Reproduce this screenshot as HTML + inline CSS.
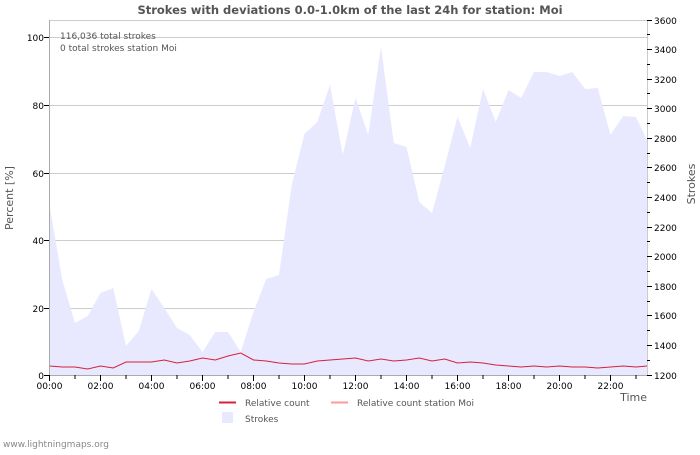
<!DOCTYPE html>
<html><head><meta charset="utf-8"><style>
body{margin:0;background:#fff;}
svg text{font-family:"DejaVu Sans","Liberation Sans",sans-serif;}
</style></head><body>
<svg width="700" height="450" xmlns="http://www.w3.org/2000/svg">
<rect width="700" height="450" fill="#fff"/>
<text x="350" y="14" text-anchor="middle" font-size="11.5" font-weight="bold" fill="#555">Strokes with deviations 0.0-1.0km of the last 24h for station: Moi</text>
<rect x="49.5" y="20.5" width="598" height="355" fill="#fff" stroke="#ccc"/>
<g stroke="#ccc" stroke-width="1">
<line x1="50" x2="647" y1="37.5" y2="37.5"/><line x1="50" x2="647" y1="105.5" y2="105.5"/><line x1="50" x2="647" y1="173.5" y2="173.5"/><line x1="50" x2="647" y1="240.5" y2="240.5"/><line x1="50" x2="647" y1="308.5" y2="308.5"/>
</g>
<polygon fill="#e8e8ff" points="49.5,375 49.5,205 62.25,280 75,323 87.75,316 100.5,293 113.25,288 126,346 138.75,331 151.5,289 164.25,308 177,328 189.75,335 202.5,352 215.25,332 228,332 240.75,352 253.5,312 266.25,279 279,275 291.75,185 304.5,134 317.25,122 330,85 342.75,155 355.5,98 368.25,135 381,47 393.75,143 406.5,147 419.25,202 432,213 444.75,166 457.5,117 470.25,148 483,89 495.75,122 508.5,90 521.25,98 534,72 546.75,72 559.5,76 572.25,72 585,89 597.75,88 610.5,135 623.25,116 636,117 647,140 647,375"/>
<polyline fill="none" stroke="#d8203a" stroke-width="1" points="49.5,366 62.25,367 75,367 87.75,369 100.5,366 113.25,368 126,362 138.75,362 151.5,362 164.25,360 177,363 189.75,361 202.5,358 215.25,360 228,356 240.75,353 253.5,360 266.25,361 279,363 291.75,364 304.5,364 317.25,361 330,360 342.75,359 355.5,358 368.25,361 381,359 393.75,361 406.5,360 419.25,358 432,361 444.75,359 457.5,363 470.25,362 483,363 495.75,365 508.5,366 521.25,367 534,366 546.75,367 559.5,366 572.25,367 585,367 597.75,368 610.5,367 623.25,366 636,367 647,366"/>
<line x1="49.5" x2="49.5" y1="20" y2="375" stroke="#aaa"/>
<line x1="49" x2="647" y1="375.5" y2="375.5" stroke="#aaa"/>
<g stroke="#000" stroke-width="1">
<line x1="49.5" x2="49.5" y1="375" y2="381"/><line x1="75" x2="75" y1="375" y2="379"/><line x1="100.5" x2="100.5" y1="375" y2="381"/><line x1="126" x2="126" y1="375" y2="379"/><line x1="151.5" x2="151.5" y1="375" y2="381"/><line x1="177" x2="177" y1="375" y2="379"/><line x1="202.5" x2="202.5" y1="375" y2="381"/><line x1="228" x2="228" y1="375" y2="379"/><line x1="253.5" x2="253.5" y1="375" y2="381"/><line x1="279" x2="279" y1="375" y2="379"/><line x1="304.5" x2="304.5" y1="375" y2="381"/><line x1="330" x2="330" y1="375" y2="379"/><line x1="355.5" x2="355.5" y1="375" y2="381"/><line x1="381" x2="381" y1="375" y2="379"/><line x1="406.5" x2="406.5" y1="375" y2="381"/><line x1="432" x2="432" y1="375" y2="379"/><line x1="457.5" x2="457.5" y1="375" y2="381"/><line x1="483" x2="483" y1="375" y2="379"/><line x1="508.5" x2="508.5" y1="375" y2="381"/><line x1="534" x2="534" y1="375" y2="379"/><line x1="559.5" x2="559.5" y1="375" y2="381"/><line x1="585" x2="585" y1="375" y2="379"/><line x1="610.5" x2="610.5" y1="375" y2="381"/><line x1="636" x2="636" y1="375" y2="379"/>
<line x1="44" x2="49" y1="375.5" y2="375.5"/><line x1="44" x2="49" y1="308.5" y2="308.5"/><line x1="44" x2="49" y1="240.5" y2="240.5"/><line x1="44" x2="49" y1="173.5" y2="173.5"/><line x1="44" x2="49" y1="105.5" y2="105.5"/><line x1="44" x2="49" y1="37.5" y2="37.5"/>
<line x1="647" x2="652" y1="375.5" y2="375.5"/><line x1="647" x2="652" y1="345.5" y2="345.5"/><line x1="647" x2="652" y1="315.5" y2="315.5"/><line x1="647" x2="652" y1="286.5" y2="286.5"/><line x1="647" x2="652" y1="256.5" y2="256.5"/><line x1="647" x2="652" y1="227.5" y2="227.5"/><line x1="647" x2="652" y1="197.5" y2="197.5"/><line x1="647" x2="652" y1="167.5" y2="167.5"/><line x1="647" x2="652" y1="138.5" y2="138.5"/><line x1="647" x2="652" y1="108.5" y2="108.5"/><line x1="647" x2="652" y1="79.5" y2="79.5"/><line x1="647" x2="652" y1="49.5" y2="49.5"/><line x1="647" x2="652" y1="20.5" y2="20.5"/>
<line x1="647" x2="650" y1="360.5" y2="360.5"/><line x1="647" x2="650" y1="330.5" y2="330.5"/><line x1="647" x2="650" y1="301.5" y2="301.5"/><line x1="647" x2="650" y1="271.5" y2="271.5"/><line x1="647" x2="650" y1="241.5" y2="241.5"/><line x1="647" x2="650" y1="212.5" y2="212.5"/><line x1="647" x2="650" y1="182.5" y2="182.5"/><line x1="647" x2="650" y1="153.5" y2="153.5"/><line x1="647" x2="650" y1="123.5" y2="123.5"/><line x1="647" x2="650" y1="93.5" y2="93.5"/><line x1="647" x2="650" y1="64.5" y2="64.5"/><line x1="647" x2="650" y1="34.5" y2="34.5"/>
</g>
<g font-size="9" fill="#000" text-anchor="end">
<text x="44" y="41">100</text><text x="44" y="109">80</text><text x="44" y="177">60</text><text x="44" y="244">40</text><text x="44" y="312">20</text><text x="44" y="379">0</text>
</g>
<g font-size="9" fill="#000">
<text x="654" y="379">1200</text><text x="654" y="349">1400</text><text x="654" y="319">1600</text><text x="654" y="290">1800</text><text x="654" y="260">2000</text><text x="654" y="231">2200</text><text x="654" y="201">2400</text><text x="654" y="171">2600</text><text x="654" y="142">2800</text><text x="654" y="112">3000</text><text x="654" y="83">3200</text><text x="654" y="53">3400</text><text x="654" y="24">3600</text>
</g>
<g font-size="9" fill="#000" text-anchor="middle">
<text x="49.5" y="389">00:00</text><text x="100.5" y="389">02:00</text><text x="151.5" y="389">04:00</text><text x="202.5" y="389">06:00</text><text x="253.5" y="389">08:00</text><text x="304.5" y="389">10:00</text><text x="355.5" y="389">12:00</text><text x="406.5" y="389">14:00</text><text x="457.5" y="389">16:00</text><text x="508.5" y="389">18:00</text><text x="559.5" y="389">20:00</text><text x="610.5" y="389">22:00</text>
</g>
<text x="60" y="39" font-size="9" fill="#555">116,036 total strokes</text>
<text x="60" y="51" font-size="9" fill="#555">0 total strokes station Moi</text>
<text transform="translate(13,198) rotate(-90)" text-anchor="middle" font-size="11" fill="#555">Percent   [%]</text>
<text transform="translate(695,184) rotate(-90)" text-anchor="middle" font-size="11" fill="#555">Strokes</text>
<text x="647" y="401" text-anchor="end" font-size="11" fill="#555">Time</text>
<line x1="219" x2="236" y1="402.5" y2="402.5" stroke="#d8203a" stroke-width="2"/>
<text x="245" y="406" font-size="9" fill="#555">Relative count</text>
<line x1="331" x2="348" y1="402.5" y2="402.5" stroke="#ff9a9a" stroke-width="2"/>
<text x="357" y="406" font-size="9" fill="#555">Relative count station Moi</text>
<rect x="222" y="412" width="11" height="11" fill="#e8e8ff"/>
<text x="245" y="422" font-size="9" fill="#555">Strokes</text>
<text x="3" y="447" font-size="9" fill="#888">www.lightningmaps.org</text>
</svg>
</body></html>
